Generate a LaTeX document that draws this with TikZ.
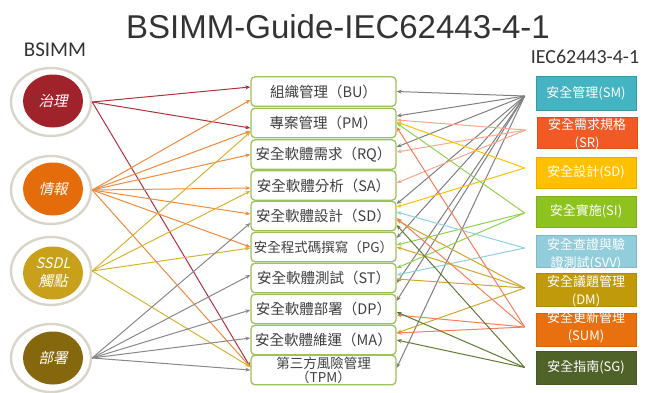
\documentclass[tikz,border=0pt]{standalone}
\usepackage{fontspec}
\setmainfont{Liberation Sans}
\newfontfamily\cjk{Noto Sans CJK TC}
\newfontfamily\cjkit[FakeSlant=0.22]{Noto Sans CJK TC}
\newfontfamily\carl{Carlito}
\usetikzlibrary{arrows.meta,shapes.geometric}
\definecolor{ringc}{HTML}{D9D5C9}
\definecolor{boxg}{HTML}{9BC35A}
\definecolor{txtg}{HTML}{404040}
\definecolor{dRed}{HTML}{A0232B}
\definecolor{dOra}{HTML}{E46C0A}
\definecolor{dGold}{HTML}{C8A01A}
\definecolor{dBrn}{HTML}{85670E}
\definecolor{lRed}{HTML}{B4303C}
\definecolor{lOra}{HTML}{F08A3C}
\definecolor{lGold}{HTML}{D6B233}
\definecolor{lGray}{HTML}{888888}
\definecolor{fSM}{HTML}{44B3C2}
\definecolor{fSR}{HTML}{F15A24}
\definecolor{fSD}{HTML}{FFC000}
\definecolor{fSI}{HTML}{8DC21F}
\definecolor{fSVV}{HTML}{92CDDC}
\definecolor{fDM}{HTML}{C09A0A}
\definecolor{fSUM}{HTML}{E8700E}
\definecolor{fSG}{HTML}{4F6228}
\definecolor{eSM}{HTML}{7F7F7F}
\definecolor{eSR}{HTML}{F9A88C}
\definecolor{eSD}{HTML}{FFC000}
\definecolor{eSI}{HTML}{92D050}
\definecolor{eSVV}{HTML}{8FD0E0}
\definecolor{eDM}{HTML}{CFA52A}
\definecolor{eSUM}{HTML}{F77E57}
\definecolor{eSG}{HTML}{5F7A35}
\begin{document}
\begin{tikzpicture}[x=1pt,y=-1pt,
 ring/.style={ellipse, draw=ringc, line width=2.4pt, fill=white, minimum width=80pt, minimum height=68pt, inner sep=0pt},
 disc/.style={ellipse, minimum width=60pt, minimum height=53pt, inner sep=0pt, text=white, font=\cjkit\fontsize{14.5}{18}\selectfont, align=center},
 mbox/.style={draw=boxg, line width=1.3pt, rounded corners=4pt, minimum width=145pt, minimum height=29.5pt, inner sep=0pt, fill=white, text=txtg, font=\cjk\fontsize{14.5}{15}\selectfont, align=center},
 rbox/.style={minimum width=100pt, minimum height=32pt, inner sep=0pt, line width=0.6pt},
 rtxt/.style={text=white, font=\cjk\fontsize{13}{18}\selectfont, align=center, inner sep=0pt},
 ed/.style={line width=1pt, -{Stealth[length=5pt,width=4pt]}},
]
\useasboundingbox (0,0) rectangle (647,392);
% titles
\node[font=\fontsize{33}{36}\selectfont, text=black!80] (title) at (338,27) {BSIMM-Guide-IEC62443-4-1};
\node[font=\carl\fontsize{21}{22}\selectfont, text=black!80] (lbsimm) at (55,50) {BSIMM};
\node[font=\carl\fontsize{20}{22}\selectfont, text=black!80] (liec) at (585,57) {IEC62443-4-1};
% left rings
\node[ring] (o1) at (51,102) {};
\node[ring] (o2) at (51,190) {};
\node[ring] (o3) at (51,271) {};
\node[ring] (o4) at (51,358) {};
\node[disc, fill=dRed] (g1) at (53,101) {治理};
\node[disc, fill=dOra] (g2) at (53,189) {情報};
\node[disc, fill=dGold] (g3) at (53,273) {SSDL\\觸點};
\node[disc, fill=dBrn] (g4) at (53,358) {部署};
% middle boxes
\node[mbox] (BU) at (323.5,91.5) {組織管理（BU）};
\node[mbox] (PM) at (323.5,123) {專案管理（PM）};
\node[mbox] (RQ) at (323.5,154.5) {安全軟體需求（RQ）};
\node[mbox] (SA) at (323.5,185.5) {安全軟體分析（SA）};
\node[mbox] (SDb) at (323.5,216) {安全軟體設計（SD）};
\node[mbox, font=\cjk\fontsize{13.5}{15}\selectfont] (PG) at (323.5,247) {安全程式碼撰寫（PG）};
\node[mbox] (ST) at (323.5,278) {安全軟體測試（ST）};
\node[mbox] (DP) at (323.5,309) {安全軟體部署（DP）};
\node[mbox] (MA) at (323.5,340) {安全軟體維運（MA）};
\node[mbox, font=\cjk\fontsize{13.5}{14}\selectfont] (TPM) at (323.5,370) {第三方風險管理\\（TPM）};
% right boxes
\node[rbox, fill=fSM, draw=fSM!85!black, minimum height=34pt] (rSM) at (586,93) {};
\node[rbox, fill=fSR, draw=fSR!90!black, minimum height=31pt] (rSR) at (587,132.5) {};
\node[rbox, fill=fSD, draw=fSD!90!black, minimum height=31pt] (rSD) at (586,172.5) {};
\node[rbox, fill=fSI, draw=fSI!90!black, minimum height=31pt] (rSI) at (586,211.5) {};
\node[rbox, fill=fSVV, draw=fSVV!90!black] (rSVV) at (586,251) {};
\node[rbox, fill=fDM, draw=fDM!90!black, minimum height=33pt] (rDM) at (586,289.5) {};
\node[rbox, fill=fSUM, draw=fSUM!90!black, minimum height=33pt] (rSUM) at (586,329.5) {};
\node[rbox, fill=fSG, draw=fSG!90!black, minimum height=33pt] (rSG) at (586,367.5) {};
\node[rtxt] (tSM) at (rSM) {安全管理(SM)};
\node[rtxt] (tSR) at ([yshift=-1.5pt]rSR.center) {安全需求規格\\(SR)};
\node[rtxt] (tSD) at (rSD) {安全設計(SD)};
\node[rtxt] (tSI) at (rSI) {安全實施(SI)};
\node[rtxt] (tSVV) at ([yshift=-3pt]rSVV.center) {安全查證與驗\\證測試(SVV)};
\node[rtxt] (tDM) at ([yshift=-1.5pt]rDM.center) {安全議題管理\\(DM)};
\node[rtxt] (tSUM) at ([yshift=2pt]rSUM.center) {安全更新管理\\(SUM)};
\node[rtxt] (tSG) at (rSG) {安全指南(SG)};
% left edges
\draw[ed,lRed] (o1.east) -- ([yshift=4.5pt]BU.west);
\draw[ed,lRed] (o1.east) -- ([yshift=-5pt]PM.west);
\draw[ed,lRed] (o1.east) -- ([yshift=3pt]TPM.west);
\draw[ed,lOra] (o2.east) -- ([yshift=-8.5pt]BU.west);
\draw[ed,lOra] (o2.east) -- ([yshift=-8pt]PM.west);
\draw[ed,lOra] (o2.east) -- (RQ.west);
\draw[ed,lOra] (o2.east) -- ([yshift=-2.5pt]SA.west);
\draw[ed,lOra] (o2.east) -- ([yshift=2pt]SDb.west);
\draw[ed,lOra] (o2.east) -- (PG.west);
\draw[ed,lOra] (o2.east) -- ([yshift=3pt]TPM.west);
\draw[ed,lGold] (o3.east) -- ([yshift=-9pt]PM.west);
\draw[ed,lGold] (o3.east) -- ([yshift=-5.5pt]SA.west);
\draw[ed,lGold] (o3.east) -- ([yshift=-1pt]PG.west);
\draw[ed,lGold] (o3.east) -- ([yshift=3pt]TPM.west);
\draw[ed,lGray] (o4.east) -- ([yshift=-7pt]SDb.west);
\draw[ed,lGray] (o4.east) -- ([yshift=3pt]ST.west);
\draw[ed,lGray] (o4.east) -- ([yshift=-1pt]DP.west);
\draw[ed,lGray] (o4.east) -- ([yshift=2pt]MA.west);
\draw[ed,lGray] (o4.east) -- (TPM.west);
% right edges
\coordinate (sSM) at ([xshift=-11pt,yshift=-3pt]rSM.west);
\coordinate (sSR) at ([xshift=-11pt,yshift=2.5pt]rSR.west);
\coordinate (sSD) at ([xshift=-11pt,yshift=4.5pt]rSD.west);
\coordinate (sSI) at ([xshift=-11pt,yshift=-1.5pt]rSI.west);
\coordinate (sSVV) at ([xshift=-11pt,yshift=3pt]rSVV.west);
\coordinate (sDM) at ([xshift=-11pt,yshift=1.5pt]rDM.west);
\coordinate (sSUM) at ([xshift=-11pt,yshift=2.5pt]rSUM.west);
\coordinate (sSG) at ([xshift=-11pt]rSG.west);
\draw[ed,eSM] (sSM) -- (BU.east);
\draw[ed,eSM] (sSM) -- ([yshift=7pt]PM.east);
\draw[ed,eSM] (sSM) -- ([yshift=7.5pt]RQ.east);
\draw[ed,eSM] (sSM) -- ([yshift=12pt]SDb.east);
\draw[ed,eSM] (sSM) -- ([yshift=9pt]PG.east);
\draw[ed,eSM] (sSM) -- ([yshift=-5pt]ST.east);
\draw[ed,eSM] (sSM) -- ([yshift=8pt]DP.east);
\draw[ed,eSM] (sSM) -- ([yshift=2pt]TPM.east);
\draw[ed,eSR] (sSR) -- ([yshift=3pt]PM.east);
\draw[ed,eSR] (sSR) -- ([yshift=2.5pt]RQ.east);
\draw[ed,eSR] (sSR) -- ([yshift=2.5pt]SA.east);
\draw[ed,eSD] (sSD) -- ([yshift=1pt]PM.east);
\draw[ed,eSD] (sSD) -- ([yshift=9pt]SDb.east);
\draw[ed,eSI] (sSI) -- (PM.east);
\draw[ed,eSI] (sSI) -- ([yshift=2pt]PG.east);
\draw[ed,eSI] (sSI) -- ([yshift=10pt]ST.east);
\draw[ed,eSVV] (sSVV) -- ([yshift=4pt]SDb.east);
\draw[ed,eSVV] (sSVV) -- ([yshift=3pt]ST.east);
\draw[ed,eDM] (sDM) -- ([yshift=-4pt]SDb.east);
\draw[ed,eDM] (sDM) -- (PG.east);
\draw[ed,eDM] (sDM) -- ([yshift=-1pt]ST.east);
\draw[ed,eDM] (sDM) -- ([yshift=7pt]MA.east);
\draw[ed,eSUM] (sSUM) -- ([yshift=-4pt]PM.east);
\draw[ed,eSUM] (sSUM) -- ([yshift=-2pt]SDb.east);
\draw[ed,eSUM] (sSUM) -- ([yshift=-6pt]DP.east);
\draw[ed,eSUM] (sSUM) -- ([yshift=7pt]MA.east);
\draw[ed,eSG] (sSG) -- ([yshift=-9pt]SDb.east);
\draw[ed,eSG] (sSG) -- ([yshift=-3pt]DP.east);
\draw[ed,eSG] (sSG) -- (MA.east);
\end{tikzpicture}
\end{document}
